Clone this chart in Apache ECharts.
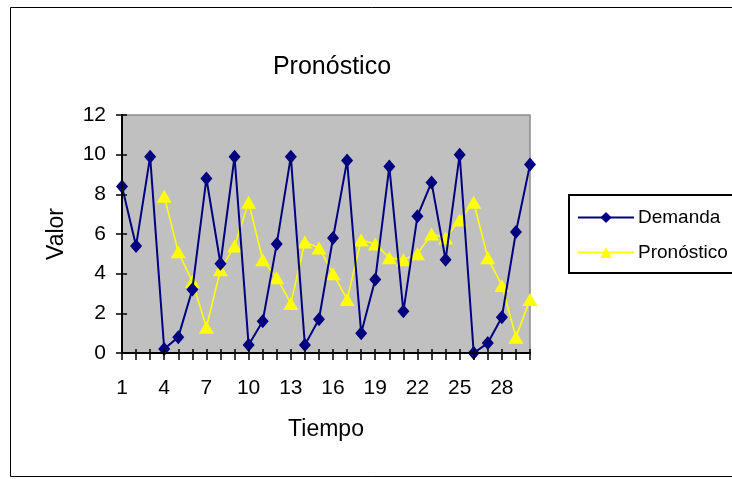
<!DOCTYPE html>
<html>
<head>
<meta charset="utf-8">
<script src="https://cdn.jsdelivr.net/npm/echarts@6/dist/echarts.min.js"></script>
<style>
  html, body { margin: 0; padding: 0; background: #fff; }
  #chart { width: 732px; height: 479px; }
</style>
</head>
<body>
<div id="chart"></div>
<script>
// Periods 1..30
const tiempo = Array.from({ length: 30 }, (_, i) => String(i + 1));

const demanda = [8.4, 5.4, 9.9, 0.2, 0.8, 3.2, 8.8, 4.5, 9.9, 0.4,
                 1.6, 5.5, 9.9, 0.4, 1.7, 5.8, 9.7, 1.0, 3.7, 9.4,
                 2.1, 6.9, 8.6, 4.7, 10.0, 0.0, 0.5, 1.8, 6.1, 9.5];

const pronostico = [null, null, null, 7.9, 5.1, 3.6, 1.3, 4.2, 5.4, 7.6,
                    4.7, 3.8, 2.5, 5.6, 5.3, 4.0, 2.7, 5.7, 5.5, 4.8,
                    4.7, 5.0, 6.0, 5.8, 6.7, 7.6, 4.8, 3.4, 0.8, 2.7];

const FONT = '"Liberation Sans", Arial, sans-serif';
const AXIS_FONT = { fontFamily: FONT, fontSize: 21, color: '#000' };

const chart = echarts.init(document.getElementById('chart'), null, { renderer: 'canvas' });

chart.setOption({
  animation: false,
  backgroundColor: '#ffffff',
  textStyle: { fontFamily: FONT, color: '#000' },
  title: {
    text: 'Pronóstico',
    left: 327,
    top: 50,
    textAlign: 'center',
    textStyle: { fontFamily: FONT, fontSize: 25, fontWeight: 'normal', color: '#000' }
  },
  graphic: [
    { // outer frame
      type: 'rect',
      shape: { x: 10.5, y: 7.5, width: 760, height: 469 },
      style: { fill: null, stroke: '#000', lineWidth: 1 },
      silent: true, z: -1
    },
    { // legend frame
      type: 'rect',
      shape: { x: 569, y: 195, width: 200, height: 78 },
      style: { fill: '#fff', stroke: '#000', lineWidth: 2 },
      silent: true, z: 0
    }
  ],
  legend: {
    left: 577,
    top: 208,
    orient: 'vertical',
    padding: 0,
    itemWidth: 56,
    itemHeight: 14,
    itemGap: 16,
    textStyle: { fontFamily: FONT, fontSize: 19, color: '#000', padding: [0, 0, 0, -1] },
    data: ['Demanda', 'Pronóstico'],
    z: 5
  },
  grid: {
    left: 122,
    right: 202,
    top: 115,
    bottom: 126,
    show: true,
    backgroundColor: '#c0c0c0',
    borderColor: '#8c8c8c',
    borderWidth: 1.5
  },
  xAxis: [
    {
      type: 'category',
      data: tiempo,
      boundaryGap: false,
      name: 'Tiempo',
      nameLocation: 'middle',
      nameGap: 65,
      nameTextStyle: { fontFamily: FONT, fontSize: 23, color: '#000' },
      axisLine: { lineStyle: { color: '#000', width: 2 } },
      axisTick: { show: true, interval: 0, length: 7, lineStyle: { color: '#000', width: 1.5 } },
      axisLabel: Object.assign({ interval: 2, margin: 25 }, AXIS_FONT),
      splitLine: { show: false },
      z: 4
    },
    { // inner half of the crossing tick marks
      type: 'category',
      data: tiempo,
      boundaryGap: false,
      position: 'bottom',
      axisLine: { show: false },
      axisTick: { show: true, inside: true, interval: 0, length: 4, lineStyle: { color: '#000', width: 1.5 } },
      axisLabel: { show: false },
      splitLine: { show: false },
      z: 4
    }
  ],
  yAxis: [
    {
      type: 'value',
      min: 0,
      max: 12,
      interval: 2,
      name: 'Valor',
      nameLocation: 'middle',
      nameGap: 54,
      nameRotate: 90,
      nameTextStyle: { fontFamily: FONT, fontSize: 23, color: '#000' },
      axisLine: { show: true, lineStyle: { color: '#000', width: 2 } },
      axisTick: { show: true, length: 6, lineStyle: { color: '#000', width: 1.5 } },
      axisLabel: Object.assign({ margin: 16 }, AXIS_FONT),
      splitLine: { show: false },
      z: 4
    },
    { // inner half of the crossing tick marks
      type: 'value',
      min: 0,
      max: 12,
      interval: 2,
      position: 'left',
      axisLine: { show: false },
      axisTick: { show: true, inside: true, length: 5, lineStyle: { color: '#000', width: 1.5 } },
      axisLabel: { show: false },
      splitLine: { show: false },
      z: 4
    }
  ],
  series: [
    {
      name: 'Demanda',
      type: 'line',
      data: demanda,
      symbol: 'diamond',
      symbolSize: [12, 14],
      showAllSymbol: true,
      lineStyle: { color: '#000080', width: 2 },
      itemStyle: { color: '#000080', borderWidth: 0 },
      z: 3
    },
    {
      name: 'Pronóstico',
      type: 'line',
      data: pronostico,
      symbol: 'triangle',
      symbolSize: [15, 13],
      showAllSymbol: true,
      connectNulls: false,
      lineStyle: { color: '#ffff00', width: 1.6 },
      itemStyle: { color: '#ffff00', borderWidth: 0 },
      z: 2
    }
  ]
});
</script>
</body>
</html>
